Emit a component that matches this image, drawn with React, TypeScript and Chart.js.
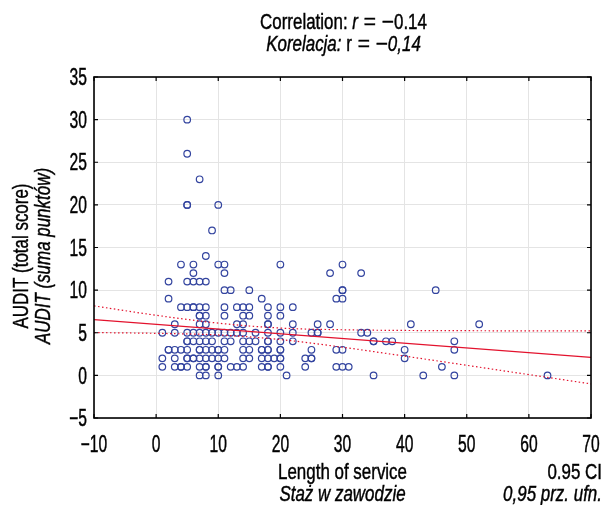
import React, { useEffect, useRef } from "react";
import { Chart, registerables } from "chart.js";

Chart.register(...registerables);

// Scatter data: Length of service (years) vs AUDIT score
const serviceYears: number[] = [
  5, 5, 7, 5, 5, 10, 9,
  8,
  4, 6, 10, 11, 20, 30,
  6, 11, 28, 33,
  2, 5, 6, 7, 8,
  11, 12, 15, 30, 30, 45,
  2, 17, 29, 30,
  4, 5, 6, 6, 7, 8, 11, 13, 14, 15, 18, 20, 22,
  7, 7, 8, 11, 14, 15, 18, 20,
  3, 7, 8, 13, 14, 18, 18, 22, 26, 28, 41, 52,
  1, 3, 5, 6, 7, 8, 9, 10, 11, 12, 13, 14, 16, 18, 20, 22, 25, 26, 26, 33, 34,
  5, 5, 6, 7, 8, 9, 11, 12, 14, 15, 16, 18, 18, 20, 22, 35, 35, 37, 38, 48,
  2, 2, 3, 4, 5, 7, 7, 8, 9, 10, 10, 11, 14, 15, 17, 17, 18, 18, 20, 20, 25, 29, 30, 40, 48,
  1, 3, 5, 5, 6, 6, 7, 8, 9, 10, 11, 14, 15, 17, 18, 19, 20, 20, 24, 25, 25, 40,
  1, 3, 4, 4, 5, 7, 8, 8, 10, 10, 12, 13, 14, 17, 18, 18, 20, 24, 29, 30, 31, 46,
  7, 8, 10, 21, 35, 43, 48, 63,
];
const auditScores: number[] = [
  30, 26, 23, 20, 20, 20, 17,
  14,
  13, 13, 13, 13, 13, 13,
  12, 12, 12, 12,
  11, 11, 11, 11, 11,
  10, 10, 10, 10, 10, 10,
  9, 9, 9, 9,
  8, 8, 8, 8, 8, 8, 8, 8, 8, 8, 8, 8, 8,
  7, 7, 7, 7, 7, 7, 7, 7,
  6, 6, 6, 6, 6, 6, 6, 6, 6, 6, 6, 6,
  5, 5, 5, 5, 5, 5, 5, 5, 5, 5, 5, 5, 5, 5, 5, 5, 5, 5, 5, 5, 5,
  4, 4, 4, 4, 4, 4, 4, 4, 4, 4, 4, 4, 4, 4, 4, 4, 4, 4, 4, 4,
  3, 3, 3, 3, 3, 3, 3, 3, 3, 3, 3, 3, 3, 3, 3, 3, 3, 3, 3, 3, 3, 3, 3, 3, 3,
  2, 2, 2, 2, 2, 2, 2, 2, 2, 2, 2, 2, 2, 2, 2, 2, 2, 2, 2, 2, 2, 2,
  1, 1, 1, 1, 1, 1, 1, 1, 1, 1, 1, 1, 1, 1, 1, 1, 1, 1, 1, 1, 1, 1,
  0, 0, 0, 0, 0, 0, 0, 0,
];

// Regression line (read at the axis ends)
const fitX: number[] = [-10, 70];
const fitY: number[] = [6.55, 2.1];

// 0.95 confidence band
const ciX: number[] = [-10, 0, 10, 20, 30, 40, 50, 60, 70];
const ciUpper: number[] = [8.15, 7.05, 6.13, 5.55, 5.35, 5.27, 5.24, 5.22, 5.21];
const ciLower: number[] = [5.02, 4.93, 4.74, 4.2, 3.3, 2.26, 1.18, 0.09, -1.0];

const xTicks: number[] = [-10, 0, 10, 20, 30, 40, 50, 60, 70];
const yTicks: number[] = [-5, 0, 5, 10, 15, 20, 25, 30, 35];

const FONT = '"Liberation Sans", Arial, sans-serif';
const TEXT_FS = 22;
const TEXT_SX = 0.77;
const TICK_FS = 23;
const TICK_SX = 0.68;
const RED = "#e3122d";
const BLUE = "#33449f";

type Run = { t: string; i?: boolean; w?: boolean };

function drawRuns(
  ctx: CanvasRenderingContext2D,
  runs: Run[],
  x: number,
  y: number,
  align: "center" | "right" | "left",
  fs = TEXT_FS,
  sx = TEXT_SX
) {
  const fontOf = (r: Run) => `${r.i ? "italic " : ""}${fs}px ${FONT}`;
  const sxOf = (r: Run) => (r.w ? 0.95 : sx);
  let total = 0;
  for (const r of runs) {
    ctx.font = fontOf(r);
    total += ctx.measureText(r.t).width * sxOf(r);
  }
  let cx = align === "center" ? x - total / 2 : align === "right" ? x - total : x;
  ctx.textAlign = "left";
  ctx.textBaseline = "alphabetic";
  ctx.fillStyle = "#000";
  ctx.strokeStyle = "#000";
  ctx.lineWidth = 0.45;
  for (const r of runs) {
    ctx.font = fontOf(r);
    const s = sxOf(r);
    ctx.save();
    ctx.translate(cx, y);
    ctx.scale(s, 1);
    ctx.fillText(r.t, 0, 0);
    ctx.strokeText(r.t, 0, 0);
    ctx.restore();
    cx += ctx.measureText(r.t).width * s;
  }
}

const fmt = (v: number) => String(v).replace("-", "\u2212");

const framePlugin = {
  id: "frame",
  afterDraw(chart: any) {
    const { ctx, chartArea } = chart;
    const { left, right, top, bottom } = chartArea;
    const xs = chart.scales.x;
    const ys = chart.scales.y;
    ctx.save();
    ctx.strokeStyle = "#000";
    ctx.lineWidth = 1.6;
    ctx.strokeRect(left, top, right - left, bottom - top);
    ctx.lineWidth = 1.2;
    ctx.beginPath();
    for (const v of xTicks) {
      const px = xs.getPixelForValue(v);
      ctx.moveTo(px, bottom);
      ctx.lineTo(px, bottom - 4);
      ctx.moveTo(px, top);
      ctx.lineTo(px, top + 4);
    }
    for (const v of yTicks) {
      const py = ys.getPixelForValue(v);
      ctx.moveTo(left, py);
      ctx.lineTo(left + 4, py);
      ctx.moveTo(right, py);
      ctx.lineTo(right - 4, py);
    }
    ctx.stroke();

    // Tick labels
    for (const v of xTicks) {
      drawRuns(ctx, [{ t: fmt(v) }], xs.getPixelForValue(v), 452, "center", TICK_FS, TICK_SX);
    }
    for (const v of yTicks) {
      drawRuns(ctx, [{ t: fmt(v) }], 87, ys.getPixelForValue(v) + 8.2, "right", TICK_FS, TICK_SX);
    }
    // Title
    const xc = (left + right) / 2;
    drawRuns(ctx, [{ t: "Correlation: " }, { t: "r", i: true }, { t: " = \u2212", w: true }, { t: "0.14" }], xc + 1, 28.5, "center");
    drawRuns(ctx, [{ t: "Korelacja:", i: true }, { t: " r" }, { t: " = \u2212", w: true }, { t: "0,14", i: true }], xc + 1, 50.5, "center");
    // X axis titles
    drawRuns(ctx, [{ t: "Length of service" }], xc, 478.5, "center");
    drawRuns(ctx, [{ t: "Sta\u017c w zawodzie", i: true }], xc, 500.5, "center");
    drawRuns(ctx, [{ t: "0.95 CI" }], 602, 478.5, "right");
    drawRuns(ctx, [{ t: "0,95 prz. ufn.", i: true }], 602, 500.5, "right");
    // Y axis titles
    ctx.save();
    ctx.translate(28, 256);
    ctx.rotate(-Math.PI / 2);
    drawRuns(ctx, [{ t: "AUDIT (total score)" }], 0, 0, "center");
    ctx.restore();
    ctx.save();
    ctx.translate(50, 256);
    ctx.rotate(-Math.PI / 2);
    drawRuns(ctx, [{ t: "AUDIT (suma punkt\u00f3w)", i: true }], 0, 0, "center");
    ctx.restore();
    ctx.restore();
  },
};

export default function App() {
  const ref = useRef<HTMLCanvasElement>(null);
  useEffect(() => {
    document.body.style.margin = "0";
    const canvas = ref.current!;
    const points = serviceYears.map((x, i) => ({ x, y: auditScores[i] }));
    const fit = fitX.map((x, i) => ({ x, y: fitY[i] }));
    const up = ciX.map((x, i) => ({ x, y: ciUpper[i] }));
    const lo = ciX.map((x, i) => ({ x, y: ciLower[i] }));
    const chart = new Chart(canvas, {
      type: "scatter",
      data: {
        datasets: [
          { data: fit, showLine: true, borderColor: RED, borderWidth: 1.2, pointRadius: 0, fill: false } as any,
          { data: up, showLine: true, borderColor: RED, borderWidth: 1.2, borderDash: [1.5, 2.5], pointRadius: 0, tension: 0.35, fill: false } as any,
          { data: lo, showLine: true, borderColor: RED, borderWidth: 1.2, borderDash: [1.5, 2.5], pointRadius: 0, tension: 0.35, fill: false } as any,
          { data: points, pointRadius: 3.3, pointStyle: "circle", backgroundColor: "rgba(0,0,0,0)", borderColor: BLUE, borderWidth: 1.2, showLine: false } as any,
        ],
      },
      options: {
        animation: false,
        responsive: false,
        events: [],
        layout: { padding: { left: 0, right: 13, top: 77, bottom: 0 } },
        plugins: { legend: { display: false }, tooltip: { enabled: false }, title: { display: false } },
        scales: {
          x: {
            type: "linear",
            min: -10,
            max: 70,
            afterBuildTicks: (s: any) => { s.ticks = xTicks.map((v) => ({ value: v })); },
            afterFit: (s: any) => { s.height = 87; },
            ticks: { display: false },
            grid: { color: "#e4e4e4", lineWidth: 1, drawTicks: false },
            border: { display: false },
          },
          y: {
            type: "linear",
            min: -5,
            max: 35,
            afterBuildTicks: (s: any) => { s.ticks = yTicks.map((v) => ({ value: v })); },
            afterFit: (s: any) => { s.width = 94; },
            ticks: { display: false },
            grid: { color: "#e4e4e4", lineWidth: 1, drawTicks: false },
            border: { display: false },
          },
        },
      },
      plugins: [framePlugin],
    } as any);
    return () => chart.destroy();
  }, []);
  return (
    <div style={{ width: 604, height: 505 }}>
      <canvas ref={ref} width={604} height={505} style={{ display: "block" }} />
    </div>
  );
}
